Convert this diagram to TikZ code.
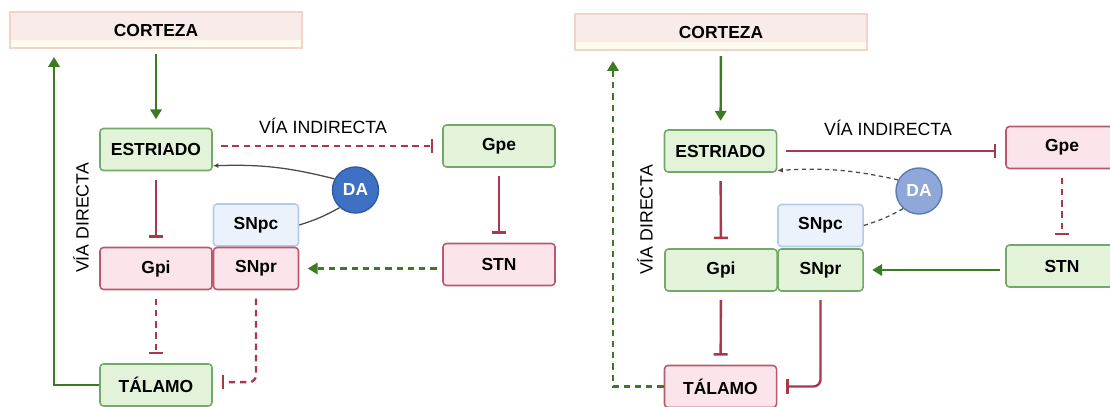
\documentclass[tikz,border=0pt]{standalone}
\usepackage{fontspec}
\setmainfont{Liberation Sans}
\usetikzlibrary{arrows.meta}

\definecolor{boxgreen}{HTML}{E2F3DA}
\definecolor{linegreen}{HTML}{74A866}
\definecolor{boxpink}{HTML}{FBE5EA}
\definecolor{linepink}{HTML}{B9596C}
\definecolor{boxblue}{HTML}{EBF2FC}
\definecolor{lineblue}{HTML}{B5CBEC}
\definecolor{cortfill}{HTML}{F8EBE9}
\definecolor{cortstrip}{HTML}{FDFBEE}
\definecolor{cortline}{HTML}{F1D3CA}
\definecolor{arrgreen}{HTML}{3C7A24}
\definecolor{arrred}{HTML}{A8384A}
\definecolor{dadark}{HTML}{3E71C3}
\definecolor{dalight}{HTML}{8FA8D9}
\definecolor{daedge}{HTML}{2F5BA6}
\definecolor{daline}{HTML}{4A4A4A}

\begin{document}
\begin{tikzpicture}[x=0.025cm, y=-0.025cm,
    box/.style={rectangle, rounded corners=2.5pt, line width=1.1pt, inner sep=0pt,
      minimum width=2.8cm, minimum height=1.05cm, font=\fontsize{12.4}{14}\selectfont\bfseries},
    gbox/.style={box, fill=boxgreen, draw=linegreen},
    pbox/.style={box, fill=boxpink, draw=linepink},
    bbox/.style={box, fill=boxblue, draw=lineblue, minimum width=2.125cm},
    cortbox/.style={box, rounded corners=0pt, fill=cortfill, draw=cortline, line width=0.8pt,
      minimum width=7.3cm, minimum height=0.9cm,
      path picture={\fill[cortstrip] (path picture bounding box.south west)
        rectangle ([yshift=5.7pt]path picture bounding box.south east);}},
    dacirc/.style={circle, inner sep=0pt, minimum size=1.15cm, line width=1pt, draw=daedge,
      text=white, font=\fontsize{12.4}{14}\selectfont\bfseries},
    vialabel/.style={font=\fontsize{12.6}{14}\selectfont, inner sep=0pt},
    brk/.style={dash pattern=on 4.5pt off 3.5pt},
    excite/.style={draw=arrgreen, line width=1.7pt, -{Triangle[width=8pt,length=7pt]},
      shorten <=4pt, shorten >=6pt},
    inhib/.style={draw=arrred, line width=1.7pt, -{Bar[width=10pt]},
      shorten <=6pt, shorten >=6.5pt},
    dapath/.style={draw=daline, line width=0.9pt}]

  \clip (0,0) rectangle (1110,407);

  % draw corteza and labels
  \foreach \p/\x/\y in {L/156/30, R/721/32}
    \node[cortbox] (cort\p) at (\x,\y) {CORTEZA};
  \foreach \x/\y in {323/126, 888/128}
    \node[vialabel] at (\x,\y) {VÍA INDIRECTA};
  \foreach \x/\y in {81/218, 645/220}
    \node[vialabel, rotate=90] at (\x,\y) {VÍA DIRECTA};

  % draw left nodes
  \node[gbox] (estrL) at (156,149.5) {ESTRIADO};
  \node[gbox] (gpeL) at (499,146) {Gpe};
  \node[pbox] (stnL) at (499,264.5) {STN};
  \node[bbox] (snpcL) at (256,225) {SNpc};
  \node[pbox] (gpiL) at (156,268.5) {Gpi};
  \node[pbox, minimum width=2.125cm] (snprL) at (256,268.5) {SNpr};
  \node[gbox] (talL) at (156,385) {TÁLAMO};
  \node[dacirc, fill=dadark] (daL) at (355.5,190) {DA};
  \coordinate (fbL) at (54,57);

  % draw left connectors
  \draw[excite] (cortL) -- (estrL);
  \draw[inhib, brk] (estrL.east |- gpeL.west) -- (gpeL.west);
  \draw[inhib] (gpeL) -- (stnL);
  \draw[excite, brk] (stnL.west |- snprL.east) -- (snprL.east);
  \draw[inhib] (estrL) -- (gpiL);
  \draw[inhib, brk] (gpiL) -- (talL);
  \draw[inhib, brk, rounded corners=5pt] (snprL.south) |- ([yshift=2pt]talL.east);
  \draw[excite, shorten <=0pt, shorten >=0pt] (talL.west) -| (fbL);
  \draw[dapath, -{Latex[length=4pt,width=3.5pt]}] (daL.152) to[bend right=8] (estrL.-16);
  \draw[dapath] (daL.228) to[bend left=6] (snpcL.east);

  % draw right nodes
  \node[gbox] (estrR) at (720.5,151) {ESTRIADO};
  \node[pbox] (gpeR) at (1062,147.5) {Gpe};
  \node[gbox] (stnR) at (1062,266) {STN};
  \node[bbox] (snpcR) at (820.5,225.5) {SNpc};
  \node[gbox] (gpiR) at (721,270) {Gpi};
  \node[gbox, minimum width=2.125cm] (snprR) at (820.5,270) {SNpr};
  \node[pbox] (talR) at (720.5,386.5) {TÁLAMO};
  \node[dacirc, fill=dalight, draw=daedge!80] (daR) at (919,191) {DA};
  \coordinate (fbR) at (613,61);

  % draw right connectors
  \draw[excite] (cortR) -- (estrR);
  \draw[inhib] (estrR.east) -- (estrR.east -| gpeR.west);
  \draw[inhib, brk] (gpeR) -- (stnR);
  \draw[excite] (stnR.west |- snprR.east) -- (snprR.east);
  \draw[inhib] (estrR) -- (gpiR);
  \draw[inhib] (gpiR) -- (talR);
  \draw[inhib, rounded corners=5pt] (snprR.south) |- (talR.east);
  \draw[excite, brk, shorten <=0pt, shorten >=0pt] (talR.west) -| (fbR);
  \draw[dapath, dash pattern=on 3pt off 2.5pt, -{Latex[length=4pt,width=3.5pt]}]
    (daR.152) to[bend right=8] (estrR.-19);
  \draw[dapath, dash pattern=on 3pt off 2.5pt] (daR.228) to[bend left=6] (snpcR.east);
\end{tikzpicture}
\end{document}
